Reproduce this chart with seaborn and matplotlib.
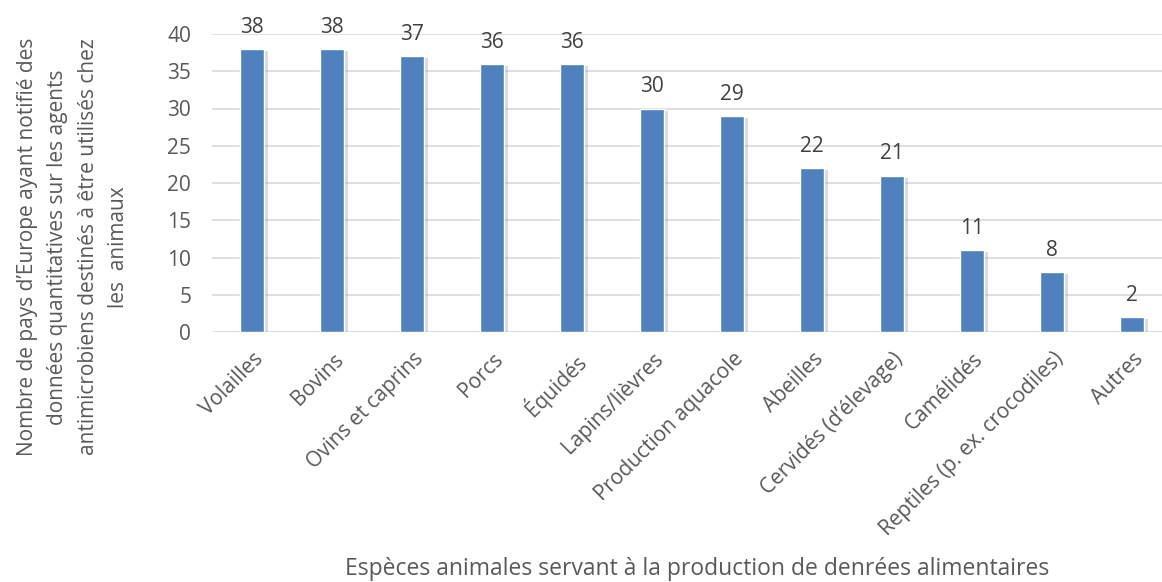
import matplotlib
matplotlib.use("Agg")
import matplotlib.pyplot as plt
import matplotlib.patheffects as pe
import matplotlib.transforms as mtrans
import seaborn as sns
import pandas as pd

categories = ["Volailles", "Bovins", "Ovins et caprins", "Porcs", "Équidés",
              "Lapins/lièvres", "Production aquacole", "Abeilles",
              "Cervidés (d’élevage)", "Camélidés", "Reptiles (p. ex. crocodiles)", "Autres"]
values = [38, 38, 37, 36, 36, 30, 29, 22, 21, 11, 8, 2]
yticks = [0, 5, 10, 15, 20, 25, 30, 35, 40]

df = pd.DataFrame({"cat": categories, "val": values})

sns.set_theme(style="white")
plt.rcParams['font.family'] = ['Open Sans', 'DejaVu Sans']

fig = plt.figure(figsize=(11.62, 5.82), dpi=100)
ax = fig.add_axes([212/1162, 250/582, 960/1162, 298/582])

sns.barplot(data=df, x="cat", y="val", color="#4f81bd", width=0.31, ax=ax,
            saturation=1, zorder=3)
for p in ax.patches:
    p.set_path_effects([pe.SimplePatchShadow(offset=(2.5, -1.5), shadow_rgbFace="#9a9a9a", alpha=0.35), pe.Normal()])

ax.set_ylim(0, 40)
ax.set_xlim(-0.5, 11.5)
ax.set_yticks(yticks)
ax.yaxis.grid(True, color="#d9d9d9", linewidth=1.2, zorder=0)
ax.set_axisbelow(True)
for s in ax.spines.values():
    s.set_visible(False)
ax.tick_params(axis="y", length=0, pad=15, labelsize=15, labelcolor="#595959")
ax.tick_params(axis="x", length=0, pad=12, labelsize=15, labelcolor="#595959")
shift = mtrans.ScaledTranslation(1/100, 0, fig.dpi_scale_trans)
for lbl in ax.get_xticklabels():
    lbl.set_rotation(45)
    lbl.set_ha("right")
    lbl.set_rotation_mode("anchor")
    lbl.set_transform(lbl.get_transform() + shift)

for i, v in enumerate(values):
    ax.annotate(str(v), (i, v), xytext=(0, 8), textcoords="offset points",
                ha="center", va="bottom", fontsize=15, color="#404040")

ax.set_xlabel("")
ax.set_ylabel("")
fig.text(697/1162, 0.002, "Espèces animales servant à la production de denrées alimentaires",
         ha="center", va="bottom", fontsize=16.5, color="#595959")
fig.text(73/1162, 1 - 247/582,
         "Nombre de pays d’Europe ayant notifié des\ndonnées quantitatives sur les agents\nantimicrobiens destinés à être utilisés chez\nles  animaux",
         rotation=90, ha="center", va="center", multialignment="center",
         fontsize=15, color="#595959", linespacing=1.6)

fig.savefig("out.png", dpi=100)
